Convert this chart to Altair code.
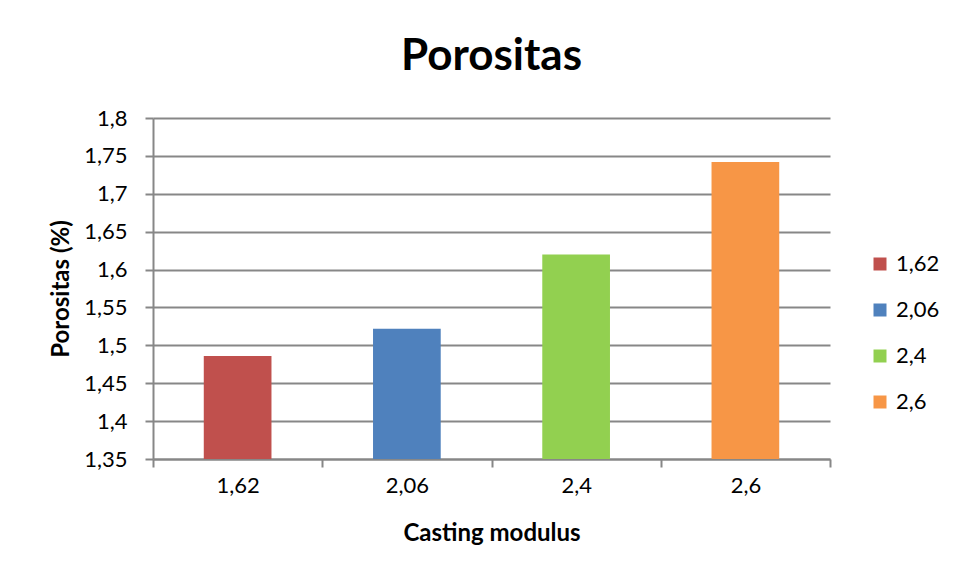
import altair as alt
import pandas as pd

categories = ["1,62", "2,06", "2,4", "2,6"]
porositas = [1.486, 1.522, 1.620, 1.742]
colors = ["#C0504D", "#4F81BD", "#92D050", "#F79646"]
y_ticks = [1.35, 1.40, 1.45, 1.50, 1.55, 1.60, 1.65, 1.70, 1.75, 1.80]

df = pd.DataFrame({"modulus": categories, "porositas": porositas})

FONT = "Lato"
GRID = "#878787"

base = alt.Chart(df).mark_bar(width={"band": 0.4}, clip=True).encode(
    x=alt.X(
        "modulus:N",
        sort=categories,
        scale=alt.Scale(paddingInner=0, paddingOuter=0),
        axis=alt.Axis(
            title="Casting modulus",
            labelAngle=0,
            tickBand="extent",
            tickSize=8,
            labelPadding=8,
            titlePadding=25,
            grid=False,
        ),
    ),
    y=alt.Y(
        "porositas:Q",
        scale=alt.Scale(domain=[1.35, 1.8], zero=False, nice=False),
        axis=alt.Axis(
            title="Porositas (%)",
            values=y_ticks,
            labelExpr="replace(format(datum.value, '.2~f'), '.', ',')",
            tickSize=8,
            labelPadding=18,
            titlePadding=10,
        ),
    ),
    color=alt.Color(
        "modulus:N",
        sort=categories,
        scale=alt.Scale(domain=categories, range=colors),
        legend=alt.Legend(
            title=None,
            orient="none",
            legendX=716,
            legendY=135,
            symbolType="square",
            symbolSize=169,
            symbolStrokeWidth=0,
            labelFontSize=22,
            labelFont=FONT,
            labelColor="#000000",
            labelOffset=5,
            rowPadding=24,
            padding=0,
        ),
    ),
).properties(
    width=677,
    height=341,
    title=alt.Title(
        "Porositas",
        font=FONT,
        fontSize=44,
        fontWeight="bold",
        color="#000000",
        anchor="middle",
        frame="group",
        offset=28,
    ),
    autosize=alt.AutoSizeParams(type="none"),
    padding={"left": 145, "top": 110, "right": 116, "bottom": 112},
    background="#ffffff",
)

chart = base.configure_view(stroke=None).configure_axis(
    labelFont=FONT,
    labelFontSize=22,
    labelColor="#000000",
    titleFont=FONT,
    titleFontSize=24,
    titleFontWeight="bold",
    titleColor="#000000",
    gridColor=GRID,
    gridWidth=2,
    gridOpacity=1,
    domainColor=GRID,
    domainWidth=2,
    tickColor=GRID,
    tickWidth=2,
)

chart.save("out.html", embed_options={"renderer": "svg", "actions": False})
